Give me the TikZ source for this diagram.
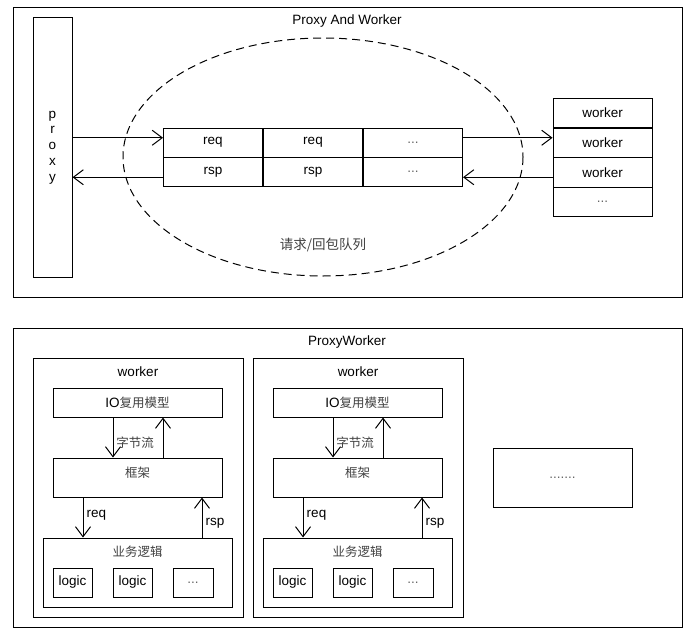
\documentclass[tikz,border=0pt]{standalone}
\usepackage{fontspec}
\setmainfont{Liberation Sans}
\newfontfamily\cjk{Noto Sans CJK SC}
\usetikzlibrary{arrows.meta,calc}
\newcommand\qdots{{\color{black!60}...}}
\tikzset{
  box/.style={draw, line width=1pt, inner sep=0pt},
  arr/.style={line width=1pt, -{Straight Barb[length=10pt,width=15pt]}},
  zh/.style={font=\cjk\fontsize{12.5}{15}\selectfont, text=black!75},
}

\begin{document}
\begin{tikzpicture}[x=1pt, y=-1pt, font=\fontsize{13.5}{16}\selectfont]
      \useasboundingbox (0,0) rectangle (695,639);
      % upper part
      \draw[line width=1pt] (13,8) rectangle (682,297);
      \node (top) at (347,21) {Proxy And Worker};
      \node[box, minimum width=39pt, minimum height=259pt, align=center,
            font=\fontsize{13.5}{15.8}\selectfont] (proxy) at (52.5,147.5) {p\\r\\o\\x\\y};
      \draw[dash pattern=on 8pt off 5pt, line width=1pt] (323,157) ellipse [x radius=200, y radius=119];
      \node[zh, font=\cjk\fontsize{13.5}{16}\selectfont] (qlabel) at (323,245) {请求/回包队列};
      \node[box, minimum width=99pt, minimum height=29pt] (q1) at (213,142.75) {req};
      \node[box, minimum width=99pt, minimum height=29pt] (q2) at (313,142.75) {req};
      \node[box, minimum width=99pt, minimum height=29pt] (q3) at (413,142.75) {\qdots};
      \node[box, minimum width=99pt, minimum height=29pt] (r1) at (213,172.25) {rsp};
      \node[box, minimum width=99pt, minimum height=29pt] (r2) at (313,172.25) {rsp};
      \node[box, minimum width=99pt, minimum height=29pt] (r3) at (413,172.25) {\qdots};
      \foreach \i/\y/\t in {1/113/worker, 2/142.75/worker, 3/172.5/worker, 4/202.25/\qdots}
        \node[box, minimum width=99pt, minimum height=29pt] (w\i) at (602.5,\y) {\t};
      \draw[arr] ($(q1.west -| proxy.east)+(0,-5)$) -- ($(q1.west)+(0,-5)$);
      \draw[arr] ($(r1.west)+(0,5)$) -- ($(r1.west -| proxy.east)+(0,5)$);
      \draw[arr] ($(q3.east)+(0,-5)$) -- ($(q3.east -| w2.west)+(0,-5)$);
      \draw[arr] ($(r3.east -| w3.west)+(0,5)$) -- ($(r3.east)+(0,5)$);

      % lower part
      \draw[line width=1pt] (13,328) rectangle (682,627);
      \node (bottom) at (347,342) {ProxyWorker};
      \foreach \n/\dx in {a/0, b/220}{
        \begin{scope}[shift={(\dx,0)}]
        \node[box, minimum width=210pt, minimum height=259pt] (wk\n) at (138,487.5) {};
        \node (wkt\n) at (138,372) {worker};
        \node[box, minimum width=169pt, minimum height=29pt] (io\n) at (137.5,402.5) {IO{\cjk\fontsize{12.5}{15}\selectfont\color{black!75}复用模型}};
        \node[box, minimum width=169pt, minimum height=39pt] (fw\n) at (137.5,477.5) {};
        \node[zh] (fwt\n) at (137.5,473) {框架};
        \node[box, minimum width=189pt, minimum height=69pt] (biz\n) at (137.5,572.5) {};
        \node[zh] (bizt\n) at (137.5,552) {业务逻辑};
        \node[box, minimum width=39pt, minimum height=29pt] (lga\n) at (72.5,582.5) {logic};
        \node[box, minimum width=39pt, minimum height=29pt] (lgb\n) at (132.5,582.5) {logic};
        \node[box, minimum width=40pt, minimum height=29pt] (lgc\n) at (193,582.5) {\qdots};
        \draw[arr] ($(io\n.south)+(-24.5,0)$) -- ($(fw\n.north)+(-24.5,0)$);
        \draw[arr] ($(fw\n.north)+(25.5,0)$) -- ($(io\n.south)+(25.5,0)$);
        \node[zh] (byte\n) at (135,443) {字节流};
        \draw[arr] ($(fw\n.south)+(-54.5,0)$) -- ($(biz\n.north)+(-54.5,0)$);
        \node (req\n) at (96.5,515) {req};
        \draw[arr] ($(biz\n.north)+(64.5,0)$) -- ($(fw\n.south)+(64.5,0)$);
        \node (rsp\n) at (215,523) {rsp};
        \end{scope}
      }
      \node[box, minimum width=139pt, minimum height=59pt, text=black!60] (more) at (562.5,477.5) {.......};
\end{tikzpicture}
\end{document}
